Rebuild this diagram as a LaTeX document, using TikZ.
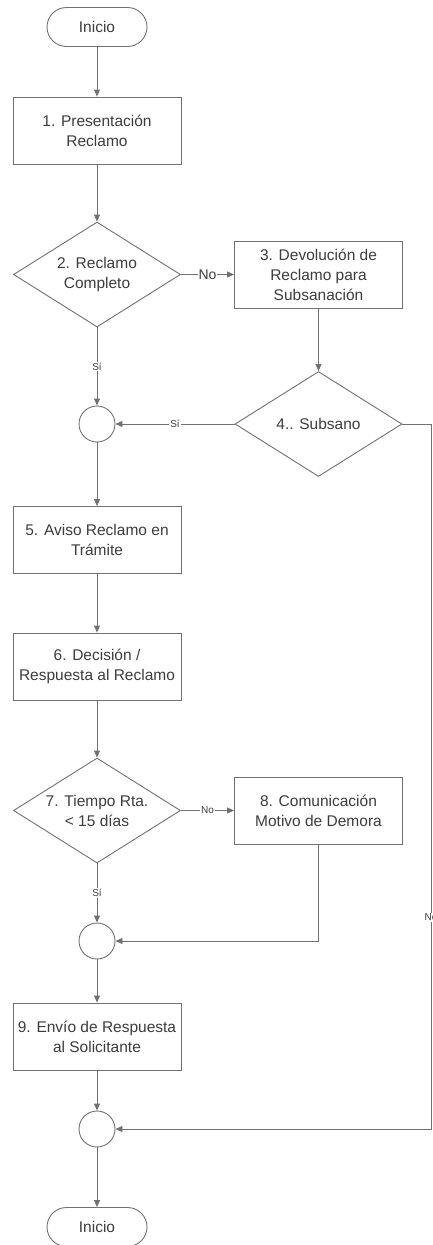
\documentclass[tikz,border=0pt]{standalone}
\usepackage{fontspec}
\setmainfont{Liberation Sans}
\usetikzlibrary{arrows.meta,shapes.geometric}
\definecolor{linegray}{RGB}{112,112,112}
\definecolor{textgray}{RGB}{60,60,60}
\tikzset{
  shapebase/.style={draw=linegray, line width=0.9pt, text=textgray, align=center, font=\fontsize{15.5}{20}\selectfont},
  process/.style={shapebase, rectangle, minimum width=168pt, minimum height=67pt, inner sep=0pt},
  decision/.style={shapebase, diamond, minimum width=167pt, minimum height=105pt, aspect=1.59, inner sep=0pt},
  terminal/.style={shapebase, rectangle, rounded corners=19.5pt, minimum width=100pt, minimum height=39pt},
  junction/.style={shapebase, circle, minimum size=36pt, inner sep=0pt},
  flow/.style={draw=linegray, line width=0.9pt, -{Triangle[length=7pt,width=6pt]}},
  tag/.style={fill=white, text=textgray, inner sep=1pt, font=\fontsize{10}{12}\selectfont},
}
\begin{document}
\begin{tikzpicture}[x=1pt, y=-1pt]
    \useasboundingbox (0,0) rectangle (432,1245);
    \clip (0,0) rectangle (432,1245);

    % main column
    \node[terminal] (start) at (97,27) {Inicio};
    \node[process] (p1) at (97,130.5) {1. Presentación\\Reclamo};
    \node[decision] (d2) at (97,274.5) {2. Reclamo\\Completo};
    \node[junction] (c1) at (97,424) {};
    \node[process] (p5) at (97,540) {5. Aviso Reclamo en\\Trámite};
    \node[process] (p6) at (97,666.5) {6. Decisión /\\Respuesta al Reclamo};
    \node[decision] (d7) at (97,810.5) {7. Tiempo Rta.\\< 15 días};
    \node[junction] (c2) at (97,941) {};
    \node[process] (p9) at (97,1036.5) {9. Envío de Respuesta\\al Solicitante};
    \node[junction] (c3) at (97,1129) {};
    \node[terminal] (end) at (97,1227) {Inicio};

    % side column
    \node[process] (p3) at (318.5,274.5) {3. Devolución de\\Reclamo para\\Subsanación};
    \node[decision] (d4) at (318.5,424) {4.. Subsano};
    \node[process] (p8) at (318.5,810.5) {8. Comunicación\\Motivo de Demora};
    \coordinate (rbend) at (431,424);

    \foreach \a/\b in {start/p1, p1/d2, p3/d4, c1/p5, p5/p6, p6/d7, c2/p9, p9/c3, c3/end}
        \draw[flow] (\a) -- (\b);

    \draw[flow] (d2) -- node[tag, font=\fontsize{14}{16}\selectfont] {No} (p3);
    \draw[flow] (d2) -- node[tag] {Sí} (c1);
    \draw[flow] (d4) -- node[tag] {Sí} (c1);
    \draw[flow] (d7) -- node[tag] {No} (p8);
    \draw[flow] (d7) -- node[tag] {Sí} (c2);
    \draw[flow] (p8) |- (c2);
    \draw[flow] (d4) -- (rbend) |- node[tag, pos=0.35] {No} (c3);

\end{tikzpicture}
\end{document}
